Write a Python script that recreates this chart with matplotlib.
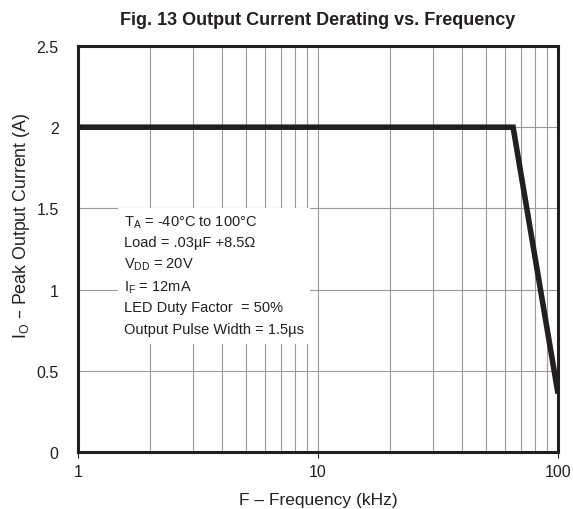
import numpy as np
import matplotlib.pyplot as plt
from matplotlib.patches import Rectangle

plt.rcParams["font.family"] = ["Liberation Sans", "DejaVu Sans"]

# curve data
freq_khz = [1, 65, 100]
current_a = [2.0, 2.0, 0.36]

y_ticks = [0, 0.5, 1, 1.5, 2, 2.5]
y_labels = ["0", "0.5", "1", "1.5", "2", "2.5"]
x_ticks = [1, 10, 100]
x_labels = ["1", "10", "100"]

notes = ("T$_\\mathregular{A}$ = -40°C to 100°C\n"
         "Load = .03µF +8.5Ω\n"
         "V$_\\mathregular{DD}$ = 20V\n"
         "I$_\\mathregular{F}$ = 12mA\n"
         "LED Duty Factor  = 50%")
last_note = "Output Pulse Width = 1.5µs"

fig = plt.figure(figsize=(5.73, 5.10), dpi=100)
ax = fig.add_axes([78 / 573, 1 - 453 / 510, 480 / 573, 406 / 510])

ax.set_xscale("log")
ax.set_xlim(1, 100)
ax.set_ylim(0, 2.5)

ax.grid(True, which="both", axis="x", color="#9a9a9a", linewidth=0.8, zorder=0.5)
ax.grid(True, which="major", axis="y", color="#9a9a9a", linewidth=0.8, zorder=0.5)
ax.set_axisbelow(True)

ax.plot(freq_khz, current_a, color="#231f20", linewidth=4, solid_joinstyle="miter",
        solid_capstyle="butt", zorder=3)

ax.set_xticks(x_ticks)
ax.set_xticklabels(x_labels)
ax.set_yticks(y_ticks)
ax.set_yticklabels(y_labels)
ax.tick_params(axis="x", labelsize=11.5, colors="#231f20", length=4, width=0.8,
               direction="out", pad=5)
ax.tick_params(axis="y", labelsize=11.5, colors="#231f20", length=0, pad=14)
ax.tick_params(axis="x", which="minor", length=0, labelbottom=False)

for s in ax.spines.values():
    s.set_linewidth(2.2)
    s.set_color("#231f20")

ax.set_xlabel("F – Frequency (kHz)", fontsize=12.5, color="#231f20", labelpad=9)
fig.text(22 / 573, 1 - 226 / 510, "I$_\\mathregular{O}$ – Peak Output Current (A)",
         fontsize=12.8, color="#231f20", rotation=90, ha="center", va="center")
ax.set_title("Fig. 13 Output Current Derating vs. Frequency", fontsize=13,
             fontweight="bold", color="#231f20", pad=16)

# white box behind the notes hides the grid
ax.add_patch(Rectangle((0.083, 0.266), 0.40, 0.334, transform=ax.transAxes,
                       facecolor="white", edgecolor="none", zorder=1.5))
ax.text(1.55, 1.47, notes, fontsize=10.5, color="#231f20", va="top", ha="left",
        linespacing=1.5, zorder=2)
ax.text(1.55, 0.76, last_note, fontsize=10.5, color="#231f20", va="center",
        ha="left", zorder=2)

fig.savefig("out.png", dpi=100)
